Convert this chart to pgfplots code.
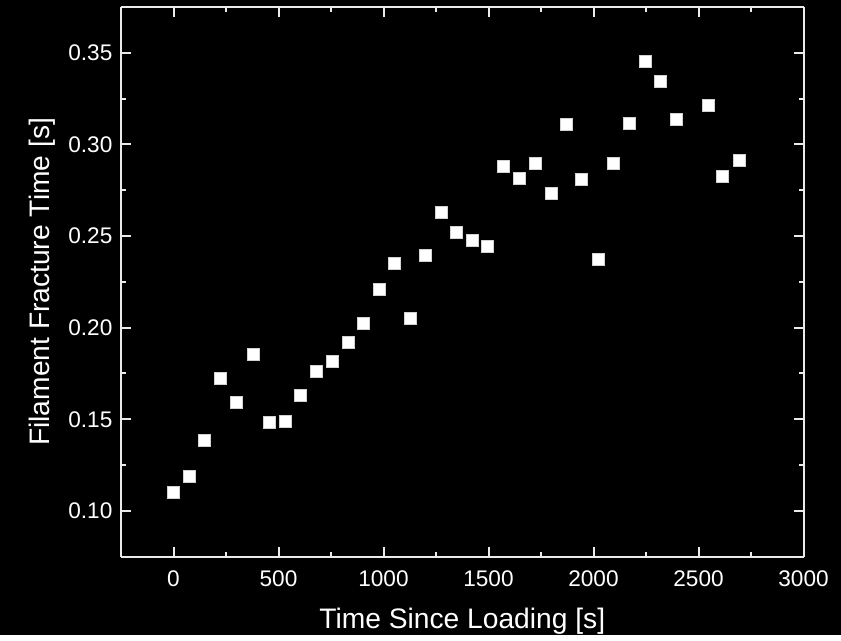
\documentclass[border=0pt]{standalone}
\usepackage{fontspec}
\setmainfont{Liberation Sans}
\usepackage{pgfplots}
\pgfplotsset{compat=1.18}
\usetikzlibrary{backgrounds}
\definecolor{axcol}{gray}{0.92}
\begin{document}
\begin{tikzpicture}
\begin{axis}[name=ax, at={(0,0)}, anchor=south west,
  scale only axis, width=341.25pt, height=274.85pt,
  xmin=-250, xmax=3000, ymin=0.075, ymax=0.375,
  xtick={0,500,1000,1500,2000,2500,3000},
  ytick={0.10,0.15,0.20,0.25,0.30,0.35},
  minor x tick num=1, minor y tick num=1,
  separate axis lines,
  axis line style={axcol, line width=1pt},
  tick style={axcol, line width=1pt},
  major tick length=5pt, minor tick length=2.5pt,
  tick align=inside,
  /pgf/number format/assume math mode=true,
  tick label style={font=\fontsize{11.3}{13}\selectfont, text=white},
  yticklabel style={xshift=-0.8pt, /pgf/number format/fixed, /pgf/number format/fixed zerofill, /pgf/number format/precision=2},
  xticklabel style={yshift=-3.5pt, /pgf/number format/1000 sep={}},
  every axis x label/.style={at={(axis description cs:0.5,0)}, anchor=base, yshift=-35.8pt, font=\fontsize{14.1}{16}\selectfont, text=white},
  every axis y label/.style={at={([xshift=-35.5pt]axis description cs:0,0.5)}, rotate=90, anchor=base, font=\fontsize{14.1}{16}\selectfont, text=white},
  xlabel={Time Since Loading [s]},
  ylabel={Filament Fracture Time [s]},
]
\addplot[only marks, mark=square*, mark size=3pt, mark options={fill=white, draw=white!82!black, line width=0.3pt}] table {
x y
0 0.1101
73 0.1190
149 0.1383
225 0.1724
301 0.1595
380 0.1853
456 0.1481
532 0.1487
605 0.1633
681 0.1760
754 0.1817
830 0.1919
903 0.2023
978 0.2211
1053 0.2350
1127 0.2052
1200 0.2397
1276 0.2627
1349 0.2523
1423 0.2477
1496 0.2442
1572 0.2882
1646 0.2813
1721 0.2897
1797 0.2731
1871 0.3108
1944 0.2811
2021 0.2371
2096 0.2897
2170 0.3115
2245 0.3456
2320 0.3345
2396 0.3135
2546 0.3214
2615 0.2827
2694 0.2911
};
\end{axis}
\begin{scope}[on background layer]
\fill[black] (-60.5pt,-39.15pt) rectangle (360pt,278.35pt);
\end{scope}
\end{tikzpicture}
\end{document}
